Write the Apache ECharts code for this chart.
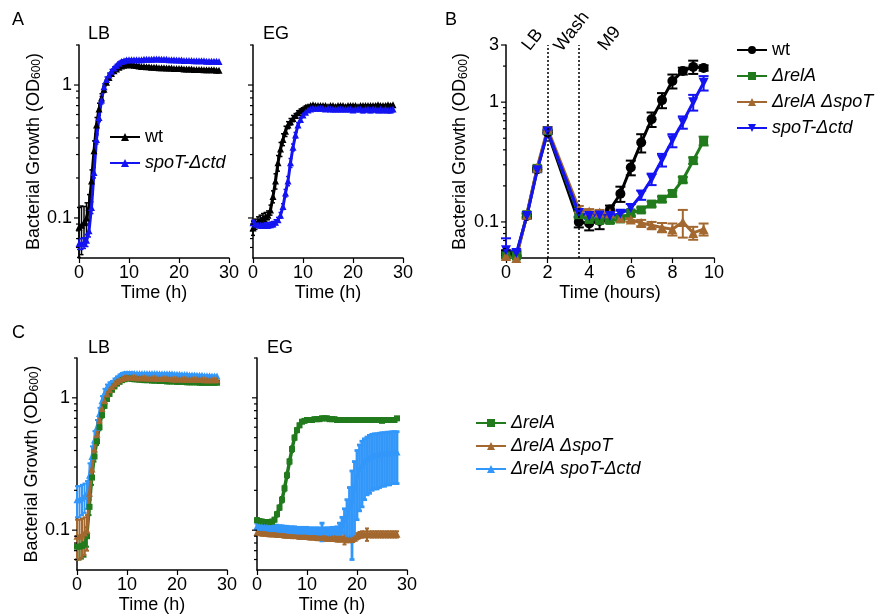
<!DOCTYPE html>
<html><head><meta charset="utf-8">
<script src="https://cdn.jsdelivr.net/npm/echarts@6/dist/echarts.min.js"></script>
<style>html,body{margin:0;padding:0;background:#fff}#c{width:876px;height:615px}</style>
</head><body><div id="c"></div><script>
// ---------- DATA ----------
// Panels A and C: time in hours (every 0.5 h)
const tH = [0,0.5,1,1.5,2,2.5,3,3.5,4,4.5,5,5.5,6,6.5,7,7.5,8,8.5,9,9.5,10,10.5,11,11.5,12,12.5,13,13.5,14,14.5,15,15.5,16,16.5,17,17.5,18,18.5,19,19.5,20,20.5,21,21.5,22,22.5,23,23.5,24,24.5,25,25.5,26,26.5,27,27.5,28];

// Panel A, LB
const aLB_wt = [0.085,0.088,0.092,0.100,0.120,0.190,0.320,0.500,0.660,0.800,
  0.93,1.05,1.14,1.22,1.28,1.32,1.36,1.39,1.41,1.42,
  1.42,1.42,1.41,1.40,1.39,1.38,1.38,1.37,1.37,1.36,
  1.36,1.36,1.35,1.35,1.35,1.34,1.34,1.34,1.33,1.33,
  1.33,1.33,1.32,1.32,1.32,1.32,1.31,1.31,1.31,1.31,
  1.30,1.30,1.30,1.30,1.30,1.29,1.29];
const aLB_wt_err = [0.035,0.035,0.03,0.03,0.03,0.04,0.06,0.07,0.07,0.06,0.05,0.04,0.03,0.03,0.02,0.02,0.02,0.02,0.02,0.02];
const aLB_sp = [0.064,0.064,0.065,0.068,0.080,0.120,0.220,0.390,0.570,0.770,
  0.97,1.10,1.19,1.27,1.34,1.40,1.46,1.50,1.52,1.54,
  1.55,1.55,1.55,1.55,1.55,1.55,1.56,1.56,1.56,1.56,
  1.57,1.57,1.57,1.56,1.56,1.56,1.55,1.55,1.55,1.54,
  1.54,1.54,1.53,1.53,1.53,1.53,1.52,1.52,1.52,1.52,
  1.52,1.51,1.51,1.51,1.51,1.51,1.50];
const aLB_sp_err = [0.006,0.006,0.006,0.007,0.008,0.012,0.02,0.03,0.04,0.05,0.05,0.05,0.04,0.04,0.03,0.03,0.03,0.03,0.03,0.03];

// Panel A, EG
const aEG_wt = [0.084,0.090,0.094,0.097,0.100,0.102,0.105,0.115,0.145,0.190,
  0.26,0.33,0.39,0.45,0.50,0.53,0.56,0.59,0.62,0.64,
  0.66,0.68,0.69,0.70,0.71,0.70,0.70,0.70,0.70,0.70,
  0.69,0.70,0.70,0.69,0.70,0.70,0.70,0.69,0.70,0.70,
  0.70,0.70,0.69,0.70,0.70,0.70,0.70,0.70,0.70,0.70,
  0.71,0.70,0.70,0.70,0.71,0.70,0.71];
const aEG_wt_err = [0.01,0.008,0.008,0.008,0.008,0.008,0.008,0.01,0.015,0.025,0.035,0.04,0.04,0.04,0.03,0.03,0.03,0.02,0.02,0.02,0.015,0.015,0.015];
const aEG_sp = [0.092,0.090,0.089,0.088,0.088,0.088,0.088,0.089,0.090,0.093,
  0.097,0.105,0.122,0.154,0.19,0.26,0.34,0.42,0.50,0.55,
  0.595,0.625,0.65,0.66,0.67,0.67,0.67,0.67,0.67,0.66,
  0.67,0.66,0.66,0.66,0.66,0.66,0.66,0.66,0.66,0.66,
  0.65,0.66,0.66,0.66,0.65,0.66,0.66,0.65,0.66,0.66,
  0.65,0.66,0.65,0.66,0.65,0.65,0.66];
const aEG_sp_err = [0.004,0.004,0.004,0.004,0.004,0.004,0.004,0.004,0.004,0.004,
  0.004,0.005,0.006,0.01,0.015,0.02,0.02,0.02,0.02,0.02,
  0.015,0.015,0.015,0.015,0.015,0.015,0.015,0.015,0.02,0.02,
  0.02,0.02,0.02,0.02,0.02,0.02,0.02,0.02,0.025,0.025,
  0.025,0.025,0.025,0.025,0.03,0.03,0.03,0.03,0.03,0.03,
  0.03,0.03,0.03,0.03,0.03,0.03,0.03];

// Panel B: time in hours
const tB = [0,0.5,1,1.5,2,3.5,4,4.5,5,5.5,6,6.5,7,7.5,8,8.5,9,9.5];
const b_wt = [0.055,0.053,0.112,0.275,0.56,0.100,0.097,0.102,0.127,0.172,0.285,0.46,0.72,1.04,1.50,1.82,1.97,1.93];
const b_wt_err = [0.003,0.003,0.005,0.01,0.02,0.01,0.012,0.015,0.01,0.025,0.04,0.08,0.10,0.15,0.20,0.12,0.25,0.10];
const b_rA = [0.052,0.052,0.115,0.28,0.58,0.115,0.105,0.103,0.103,0.106,0.119,0.126,0.141,0.155,0.173,0.225,0.325,0.475];
const b_rA_err = [0.002,0.002,0.005,0.01,0.02,0.008,0.006,0.005,0.005,0.005,0.006,0.006,0.007,0.008,0.01,0.012,0.02,0.04];
const b_rAsT = [0.052,0.050,0.115,0.285,0.60,0.13,0.122,0.12,0.118,0.108,0.105,0.098,0.094,0.090,0.087,0.100,0.081,0.087];
const b_rAsT_err = [0.002,0.002,0.005,0.01,0.02,0.006,0.006,0.006,0.005,0.006,0.005,0.006,0.006,0.008,0.01,0.026,0.01,0.01];
const b_sp = [0.058,0.055,0.112,0.27,0.57,0.119,0.112,0.113,0.112,0.117,0.131,0.168,0.228,0.33,0.48,0.68,1.0,1.45];
const b_sp_err = [0.015,0.003,0.005,0.01,0.02,0.008,0.006,0.006,0.006,0.007,0.01,0.015,0.025,0.04,0.06,0.08,0.15,0.2];

// Panel C, LB
const cLB_rA = [0.075,0.075,0.076,0.078,0.090,0.150,0.250,0.360,0.470,0.600,
  0.74,0.87,0.98,1.07,1.15,1.22,1.28,1.32,1.36,1.38,
  1.40,1.40,1.39,1.38,1.38,1.37,1.37,1.36,1.36,1.36,
  1.35,1.35,1.35,1.34,1.34,1.34,1.33,1.33,1.33,1.33,
  1.32,1.32,1.32,1.32,1.31,1.31,1.31,1.31,1.31,1.30,
  1.30,1.30,1.30,1.30,1.30,1.30,1.30];
const cLB_rA_err = [0.015,0.015,0.015,0.015,0.015,0.02,0.03,0.03,0.03,0.03,0.03,0.03,0.03,0.02,0.02,0.02,0.02,0.02,0.02,0.02];
const cLB_rAsT = [0.090,0.090,0.092,0.095,0.100,0.190,0.290,0.410,0.530,0.680,
  0.83,0.95,1.07,1.15,1.22,1.28,1.33,1.37,1.40,1.42,
  1.43,1.43,1.43,1.43,1.42,1.42,1.42,1.42,1.41,1.41,
  1.41,1.41,1.40,1.40,1.40,1.40,1.40,1.40,1.39,1.39,
  1.39,1.39,1.39,1.39,1.38,1.38,1.38,1.38,1.38,1.38,
  1.38,1.37,1.37,1.37,1.37,1.37,1.37];
const cLB_rAsT_err = [0.03,0.03,0.03,0.03,0.03,0.04,0.04,0.04,0.04,0.04,0.04,0.04,0.03,0.03,0.03,0.02,0.02,0.02,0.02,0.02];
const cLB_rAsp = [0.170,0.170,0.175,0.180,0.190,0.260,0.360,0.480,0.600,0.760,
  0.95,1.09,1.20,1.26,1.30,1.36,1.41,1.46,1.50,1.52,
  1.53,1.53,1.53,1.53,1.53,1.53,1.53,1.53,1.53,1.53,
  1.53,1.53,1.53,1.52,1.52,1.52,1.52,1.52,1.52,1.51,
  1.51,1.51,1.50,1.50,1.50,1.49,1.49,1.49,1.48,1.48,
  1.48,1.47,1.47,1.47,1.46,1.46,1.46];
const cLB_rAsp_err = [0.045,0.045,0.045,0.045,0.045,0.06,0.07,0.08,0.08,0.08,0.08,0.08,0.06,0.05,0.04,0.04,0.04,0.04,0.04,0.04,0.03,0.03,0.03];

// Panel C, EG
const cEG_rA = [0.119,0.117,0.116,0.115,0.115,0.115,0.116,0.120,0.132,0.148,
  0.170,0.207,0.260,0.330,0.410,0.500,0.570,0.620,0.660,0.670,
  0.680,0.680,0.680,0.690,0.690,0.690,0.700,0.700,0.700,0.690,
  0.690,0.690,0.680,0.680,0.680,0.680,0.680,0.680,0.680,0.680,
  0.680,0.680,0.680,0.680,0.680,0.680,0.680,0.680,0.680,0.680,
  0.670,0.680,0.680,0.680,0.680,0.680,0.700];
const cEG_rA_err = [0.004,0.004,0.004,0.004,0.004,0.004,0.004,0.004,0.005,0.006,0.008,0.01,0.012,0.015,0.02,0.02,0.02,0.02,0.015,0.015,0.015,0.015,0.015,0.015,0.015,0.015,0.02,0.02,0.02];
const cEG_rAsT = [0.096,0.096,0.095,0.095,0.095,0.094,0.094,0.094,0.093,0.093,
  0.093,0.092,0.092,0.092,0.091,0.091,0.091,0.090,0.090,0.090,
  0.090,0.089,0.089,0.089,0.088,0.088,0.088,0.088,0.087,0.087,
  0.087,0.087,0.086,0.086,0.086,0.086,0.085,0.085,0.085,0.087,
  0.090,0.092,0.093,0.093,0.093,0.093,0.093,0.093,0.093,0.093,
  0.093,0.093,0.093,0.093,0.093,0.093,0.093];
const cEG_rAsT_err = [0.004,0.004,0.004,0.004,0.004,0.004,0.004,0.004,0.004,0.004,
  0.004,0.004,0.004,0.004,0.004,0.004,0.004,0.004,0.004,0.004,
  0.004,0.004,0.004,0.004,0.004,0.004,0.004,0.004,0.004,0.004,
  0.004,0.004,0.004,0.004,0.004,0.008,0.004,0.004,0.004,0.004,
  0.005,0.005,0.005,0.005,0.01,0.005,0.005,0.005,0.005,0.005,
  0.005,0.005,0.005,0.005,0.005,0.005,0.005];
const cEG_rAsp = [0.107,0.106,0.106,0.105,0.105,0.104,0.104,0.103,0.103,0.102,
  0.102,0.101,0.101,0.100,0.100,0.100,0.099,0.099,0.099,0.099,
  0.099,0.098,0.098,0.098,0.098,0.098,0.098,0.098,0.098,0.098,
  0.099,0.099,0.100,0.103,0.110,0.120,0.130,0.150,0.170,0.210,
  0.260,0.290,0.310,0.330,0.345,0.355,0.365,0.370,0.370,0.375,
  0.380,0.380,0.385,0.385,0.390,0.390,0.390];
const cEG_rAsp_err = [0.006,0.006,0.006,0.006,0.006,0.006,0.006,0.006,0.006,0.006,
  0.006,0.006,0.006,0.006,0.006,0.006,0.006,0.006,0.006,0.006,
  0.006,0.006,0.006,0.006,0.006,0.006,0.015,0.006,0.006,0.006,
  0.006,0.006,0.006,0.01,0.015,0.025,0.04,0.06,0.11,0.12,
  0.14,0.15,0.16,0.16,0.16,0.165,0.165,0.165,0.165,0.165,
  0.165,0.165,0.165,0.165,0.165,0.165,0.165];

// Axis tick values
const yMajor = [0.1, 1];
const yMajorB = [0.1, 1, 3];
const yMinor = [0.06,0.07,0.08,0.09,0.2,0.3,0.4,0.5,0.6,0.7,0.8,0.9,2];

// ---------- STYLE ----------
const FONT = "'Liberation Sans', Arial, Helvetica, sans-serif";
const FS = 18;
const BLACK = '#000000', GREEN = '#217a1c', BROWN = '#a3682f', BLUE = '#1414f2', LBLUE = '#3397fa';

const LBL = {
  A_wt: '{n|wt}', A_sp: '{i|spoT-Δctd}',
  B_wt: '{n|wt}', B_rA: '{i|ΔrelA}', B_rAsT: '{i|ΔrelA ΔspoT}', B_sp: '{i|spoT-Δctd}',
  C_rA: '{i|ΔrelA}', C_rAsT: '{i|ΔrelA ΔspoT}', C_rAsp: '{i|ΔrelA spoT-Δctd}'
};

function lineS(gi, name, t, m, color, symbol, size, lw, extra) {
  return Object.assign({
    type: 'line', name, xAxisIndex: gi, yAxisIndex: gi,
    data: t.map((tt, i) => [tt, m[i]]),
    symbol, symbolSize: size, showSymbol: true,
    lineStyle: { width: lw, color }, itemStyle: { color, borderWidth: 0 },
    color, z: 3, animation: false, silent: true
  }, extra || {});
}
function errS(gi, t, m, e, color, cap, lw) {
  const data = [];
  for (let i = 0; i < t.length; i++) if (e[i] != null) data.push([t[i], m[i], e[i]]);
  return {
    type: 'custom', xAxisIndex: gi, yAxisIndex: gi, silent: true, z: 2, animation: false,
    data,
    renderItem(params, api) {
      const x = api.value(0), v = api.value(1), er = api.value(2);
      const lo = Math.max(v - er, 0.0505), hi = v + er;
      const a = api.coord([x, lo]), b = api.coord([x, hi]);
      const st = { stroke: color, lineWidth: lw };
      return { type: 'group', children: [
        { type: 'line', shape: { x1: a[0], y1: a[1], x2: b[0], y2: b[1] }, style: st },
        { type: 'line', shape: { x1: a[0] - cap, y1: a[1], x2: a[0] + cap, y2: a[1] }, style: st },
        { type: 'line', shape: { x1: b[0] - cap, y1: b[1], x2: b[0] + cap, y2: b[1] }, style: st }
      ]};
    }
  };
}
function tickS(gi, major) {
  const data = major.map(v => [0, v, 5]).concat(yMinor.map(v => [0, v, 3]));
  return {
    type: 'custom', xAxisIndex: gi, yAxisIndex: gi, silent: true, z: 5, animation: false,
    data,
    renderItem(params, api) {
      const p = api.coord([api.value(0), api.value(1)]);
      const L = api.value(2);
      return { type: 'line', shape: { x1: p[0] - L, y1: p[1], x2: p[0], y2: p[1] }, style: { stroke: '#000', lineWidth: 1.2 } };
    }
  };
}
function xAx(gi, max, interval, name) {
  return {
    type: 'value', gridIndex: gi, min: 0, max, interval, name,
    nameLocation: 'middle', nameGap: 26,
    nameTextStyle: { fontSize: FS, fontFamily: FONT, color: '#000' },
    axisLine: { show: true, onZero: false, lineStyle: { color: '#000', width: 1.5 } },
    axisTick: { show: true, length: 5, lineStyle: { color: '#000', width: 1.2 } },
    axisLabel: { fontSize: FS, fontFamily: FONT, color: '#000', margin: 6 },
    splitLine: { show: false }
  };
}
function yAx(gi, max, showLabels, withName, gap, three) {
  return {
    type: 'log', logBase: 10, gridIndex: gi, min: 0.05, max,
    name: withName ? '{a|Bacterial Growth (OD}{s|600}{a|)}' : '',
    nameLocation: 'middle', nameRotate: 90, nameGap: gap,
    nameTextStyle: { rich: {
      a: { fontSize: FS, fontFamily: FONT, color: '#000' },
      s: { fontSize: 12, fontFamily: FONT, color: '#000', padding: [7, 0, 0, 0] }
    } },
    axisLine: { show: true, lineStyle: { color: '#000', width: 1.5 } },
    axisTick: { show: false },
    axisLabel: {
      show: showLabels, fontSize: FS, fontFamily: FONT, color: '#000', margin: 7,
      formatter: v => {
        if (Math.abs(v - 1) < 1e-6) return '1';
        if (Math.abs(v - 0.1) < 1e-7) return '0.1';
        if (three && Math.abs(v - 3) < 1e-6) return '3';
        return '';
      }
    },
    splitLine: { show: false }
  };
}
const legendText = {
  fontSize: FS, fontFamily: FONT, color: '#000',
  rich: { n: { fontSize: FS, fontFamily: FONT, color: '#000' },
          i: { fontSize: FS, fontFamily: FONT, color: '#000', fontStyle: 'italic' } }
};
function legend(names, left, top, gap) {
  return { data: names, left, top, orient: 'vertical', itemGap: gap, itemWidth: 30, itemHeight: 10,
    formatter: n => LBL[n], textStyle: legendText, selectedMode: false, padding: 0 };
}
function ttl(text, left, top) {
  return { text, left, top, padding: 0, textStyle: { fontSize: FS, fontWeight: 'normal', fontFamily: FONT, color: '#000' } };
}
function rotText(text, x, y) {
  return { type: 'text', x, y, rotation: 52 * Math.PI / 180,
    style: { text, fontSize: FS, fontFamily: FONT, fill: '#000', align: 'left', verticalAlign: 'bottom', textAlign: 'left', textVerticalAlign: 'bottom' } };
}

const option = {
  animation: false,
  backgroundColor: '#ffffff',
  title: [ttl('A', 12, 11), ttl('LB', 88, 25), ttl('EG', 263, 25), ttl('B', 445, 11),
          ttl('C', 12, 324), ttl('LB', 88, 339), ttl('EG', 267, 339)],
  graphic: [rotText('LB', 533, 54), rotText('Wash', 565, 55), rotText('M9', 609, 54)],
  legend: [
    legend(['A_wt', 'A_sp'], 109, 128, 8),
    legend(['B_wt', 'B_rA', 'B_rAsT', 'B_sp'], 736, 41, 8),
    legend(['C_rA', 'C_rAsT', 'C_rAsp'], 475, 414, 5)
  ],
  grid: [
    { left: 79, top: 45, width: 150, height: 213 },
    { left: 253, top: 45, width: 150, height: 213 },
    { left: 506, top: 45, width: 208, height: 213 },
    { left: 77, top: 358, width: 150, height: 212 },
    { left: 257, top: 358, width: 150, height: 212 }
  ],
  xAxis: [xAx(0, 30, 10, 'Time (h)'), xAx(1, 30, 10, 'Time (h)'), xAx(2, 10, 2, 'Time (hours)'),
          xAx(3, 30, 10, 'Time (h)'), xAx(4, 30, 10, 'Time (h)')],
  yAxis: [yAx(0, 2, true, true, 32, false), yAx(1, 2, false, false, 30, false), yAx(2, 3, true, true, 36, true),
          yAx(3, 2, true, true, 32, false), yAx(4, 2, false, false, 30, false)],
  series: [
    tickS(0, yMajor), tickS(1, yMajor), tickS(2, yMajorB), tickS(3, yMajor), tickS(4, yMajor),
    // A LB
    errS(0, tH, aLB_wt, aLB_wt_err, BLACK, 2, 1.5),
    lineS(0, 'A_wt', tH, aLB_wt, BLACK, 'triangle', 7, 3),
    errS(0, tH, aLB_sp, aLB_sp_err, BLUE, 2, 1.5),
    lineS(0, 'A_sp', tH, aLB_sp, BLUE, 'triangle', 7, 3),
    // A EG
    errS(1, tH, aEG_wt, aEG_wt_err, BLACK, 2, 1.5),
    lineS(1, 'A_wt', tH, aEG_wt, BLACK, 'triangle', 7, 3),
    errS(1, tH, aEG_sp, aEG_sp_err, BLUE, 2, 1.5),
    lineS(1, 'A_sp', tH, aEG_sp, BLUE, 'triangle', 7, 3),
    // B
    errS(2, tB, b_wt, b_wt_err, BLACK, 5, 2),
    lineS(2, 'B_wt', tB, b_wt, BLACK, 'circle', 10, 3, {
      markLine: { silent: true, symbol: ['none', 'none'], label: { show: false }, animation: false,
        lineStyle: { type: [2, 2], color: '#000', width: 1.5 }, emphasis: { disabled: true },
        data: [{ xAxis: 2 }, { xAxis: 3.5 }] }
    }),
    errS(2, tB, b_rA, b_rA_err, GREEN, 5, 2),
    lineS(2, 'B_rA', tB, b_rA, GREEN, 'rect', 9, 3),
    errS(2, tB, b_rAsT, b_rAsT_err, BROWN, 5, 2),
    lineS(2, 'B_rAsT', tB, b_rAsT, BROWN, 'triangle', 10, 3),
    errS(2, tB, b_sp, b_sp_err, BLUE, 5, 2),
    lineS(2, 'B_sp', tB, b_sp, BLUE, 'triangle', 10, 3, { symbolRotate: 180 }),
    // C LB
    errS(3, tH, cLB_rAsp, cLB_rAsp_err, LBLUE, 2, 2),
    lineS(3, 'C_rAsp', tH, cLB_rAsp, LBLUE, 'triangle', 7, 3),
    errS(3, tH, cLB_rA, cLB_rA_err, GREEN, 2, 2),
    lineS(3, 'C_rA', tH, cLB_rA, GREEN, 'rect', 6, 3),
    errS(3, tH, cLB_rAsT, cLB_rAsT_err, BROWN, 2, 2),
    lineS(3, 'C_rAsT', tH, cLB_rAsT, BROWN, 'triangle', 7, 3),
    // C EG
    errS(4, tH, cEG_rA, cEG_rA_err, GREEN, 2, 2),
    lineS(4, 'C_rA', tH, cEG_rA, GREEN, 'rect', 6, 3.5),
    errS(4, tH, cEG_rAsT, cEG_rAsT_err, BROWN, 2, 2),
    lineS(4, 'C_rAsT', tH, cEG_rAsT, BROWN, 'triangle', 7, 3),
    errS(4, tH, cEG_rAsp, cEG_rAsp_err, LBLUE, 2.5, 2.8),
    lineS(4, 'C_rAsp', tH, cEG_rAsp, LBLUE, 'triangle', 7, 3)
  ]
};
const chart = echarts.init(document.getElementById('c'), null, { renderer: 'canvas' });
chart.setOption(option);
</script></body></html>
